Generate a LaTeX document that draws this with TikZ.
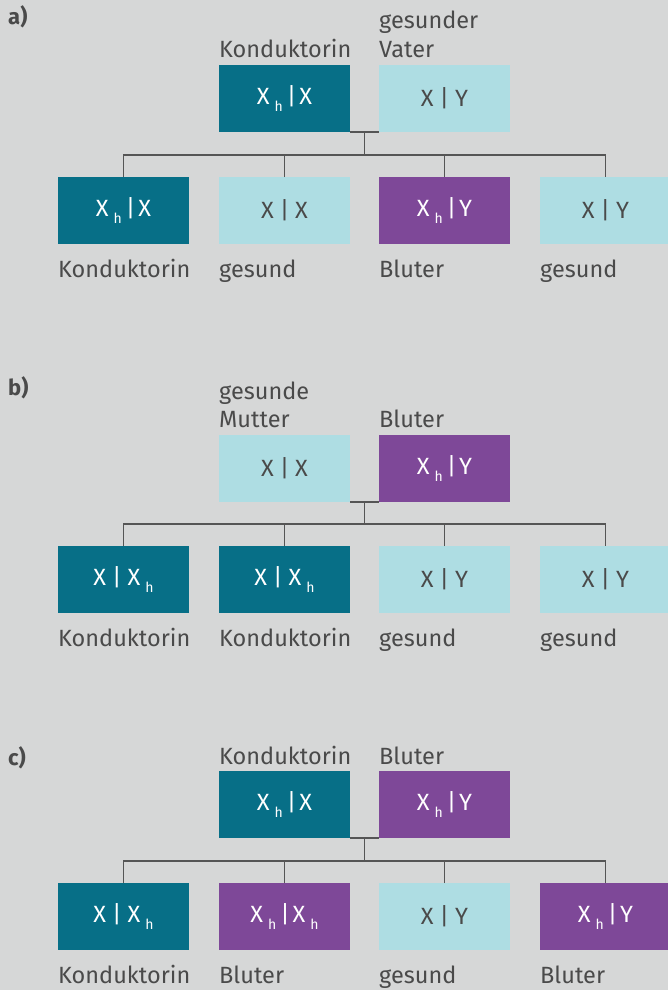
\documentclass[tikz,border=0pt]{standalone}
\usepackage{fontspec}
\setmainfont{Fira Sans}
\usetikzlibrary{calc}
\definecolor{cbg}{HTML}{D6D7D7}
\definecolor{cteal}{HTML}{076F87}
\definecolor{clight}{HTML}{AEDDE3}
\definecolor{cpurp}{HTML}{7E4898}
\definecolor{ctxt}{HTML}{4A4A4A}
\definecolor{cln}{HTML}{555555}
\newcommand\hs{\raisebox{-7.5pt}{\fontsize{14}{14}\selectfont h}}
\newcommand\gXX{X\kern6pt|\kern6pt X}
\newcommand\gXY{X\kern6pt|\kern6pt Y}
\newcommand\gXhX{X\kern5pt\hs\kern4pt|\kern3pt X}
\newcommand\gXhY{X\kern5pt\hs\kern4pt|\kern3pt Y}
\newcommand\gXXh{X\kern6pt|\kern6pt X\kern5pt\hs}
\newcommand\gXhXh{X\kern5pt\hs\kern4pt|\kern3pt X\kern5pt\hs}
\begin{document}
\begin{tikzpicture}[x=1pt,y=-1pt,
  gbox/.style={minimum width=131pt, minimum height=67pt, inner sep=0pt, outer sep=0pt, anchor=north west, font=\fontsize{23.5}{23.5}\selectfont},
  dbox/.style={gbox, fill=cteal, text=white},
  lbox/.style={gbox, fill=clight, text=ctxt},
  pbox/.style={gbox, fill=cpurp, text=white},
  lbl/.style={anchor=base west, inner sep=0pt, text=ctxt, font=\fontsize{23.5}{23.5}\selectfont},
  sec/.style={anchor=base west, inner sep=0pt, text=ctxt, font=\fontsize{22}{22}\selectfont\bfseries},
  conn/.style={draw=cln, line width=1.3pt}]
\fill[cbg] (0,0) rectangle (668,990);
\clip (0,0) rectangle (668,990);

% ---------- a ----------
\node[sec] (sa) at (8,25) {a)};
\node[dbox] (pa1) at (219,65) {\gXhX};
\node[lbox] (pa2) at (379,65) {\gXY};
\node[dbox] (ca1) at (58,177) {\gXhX};
\node[lbox] (ca2) at (219,177) {\gXX};
\node[pbox] (ca3) at (379,177) {\gXhY};
\node[lbox] (ca4) at (540,177) {\gXY};
\node[lbl] (la1) at ([yshift=8pt]pa1.north west) {Konduktorin};
\node[lbl] (la2) at ([yshift=8pt]pa2.north west) {Vater};
\node[lbl] (la3) at ([yshift=36pt]pa2.north west) {gesunder};
\node[lbl] (ka1) at ([yshift=-33pt]ca1.south west) {Konduktorin};
\node[lbl] (ka2) at ([yshift=-33pt]ca2.south west) {gesund};
\node[lbl] (ka3) at ([yshift=-33pt]ca3.south west) {Bluter};
\node[lbl] (ka4) at ([yshift=-33pt]ca4.south west) {gesund};
\coordinate (ja) at ($(pa1.south east)!0.5!(pa2.south west)$);
\draw[conn] (pa1.south east) -- (pa2.south west);
\draw[conn] (ja) -- ++(0,23);
\draw[conn] (ca1.north) -- ++(0,-22) -| (ca4.north);
\draw[conn] (ca2.north) -- ++(0,-22);
\draw[conn] (ca3.north) -- ++(0,-22);

% ---------- b ----------
\node[sec] (sb) at (8,395) {b)};
\node[lbox] (pb1) at (219,435) {\gXX};
\node[pbox] (pb2) at (379,435) {\gXhY};
\node[dbox] (cb1) at (58,546) {\gXXh};
\node[dbox] (cb2) at (219,546) {\gXXh};
\node[lbox] (cb3) at (379,546) {\gXY};
\node[lbox] (cb4) at (540,546) {\gXY};
\node[lbl] (lb1) at ([yshift=8pt]pb1.north west) {Mutter};
\node[lbl] (lb0) at ([yshift=36pt]pb1.north west) {gesunde};
\node[lbl] (lb2) at ([yshift=8pt]pb2.north west) {Bluter};
\node[lbl] (kb1) at ([yshift=-33pt]cb1.south west) {Konduktorin};
\node[lbl] (kb2) at ([yshift=-33pt]cb2.south west) {Konduktorin};
\node[lbl] (kb3) at ([yshift=-33pt]cb3.south west) {gesund};
\node[lbl] (kb4) at ([yshift=-33pt]cb4.south west) {gesund};
\coordinate (jb) at ($(pb1.south east)!0.5!(pb2.south west)$);
\draw[conn] (pb1.south east) -- (pb2.south west);
\draw[conn] (jb) -- ++(0,22);
\draw[conn] (cb1.north) -- ++(0,-22) -| (cb4.north);
\draw[conn] (cb2.north) -- ++(0,-22);
\draw[conn] (cb3.north) -- ++(0,-22);

% ---------- c ----------
\node[sec] (sc) at (8,765) {c)};
\node[dbox] (pc1) at (219,771) {\gXhX};
\node[pbox] (pc2) at (379,771) {\gXhY};
\node[dbox] (cc1) at (58,883) {\gXXh};
\node[pbox] (cc2) at (219,883) {\gXhXh};
\node[lbox] (cc3) at (379,883) {\gXY};
\node[pbox] (cc4) at (540,883) {\gXhY};
\node[lbl] (lc1) at ([yshift=7pt]pc1.north west) {Konduktorin};
\node[lbl] (lc2) at ([yshift=7pt]pc2.north west) {Bluter};
\node[lbl] (kc1) at ([yshift=-33pt]cc1.south west) {Konduktorin};
\node[lbl] (kc2) at ([yshift=-33pt]cc2.south west) {Bluter};
\node[lbl] (kc3) at ([yshift=-33pt]cc3.south west) {gesund};
\node[lbl] (kc4) at ([yshift=-33pt]cc4.south west) {Bluter};
\coordinate (jc) at ($(pc1.south east)!0.5!(pc2.south west)$);
\draw[conn] (pc1.south east) -- (pc2.south west);
\draw[conn] (jc) -- ++(0,22);
\draw[conn] (cc1.north) -- ++(0,-22) -| (cc4.north);
\draw[conn] (cc2.north) -- ++(0,-22);
\draw[conn] (cc3.north) -- ++(0,-22);
\end{tikzpicture}
\end{document}
